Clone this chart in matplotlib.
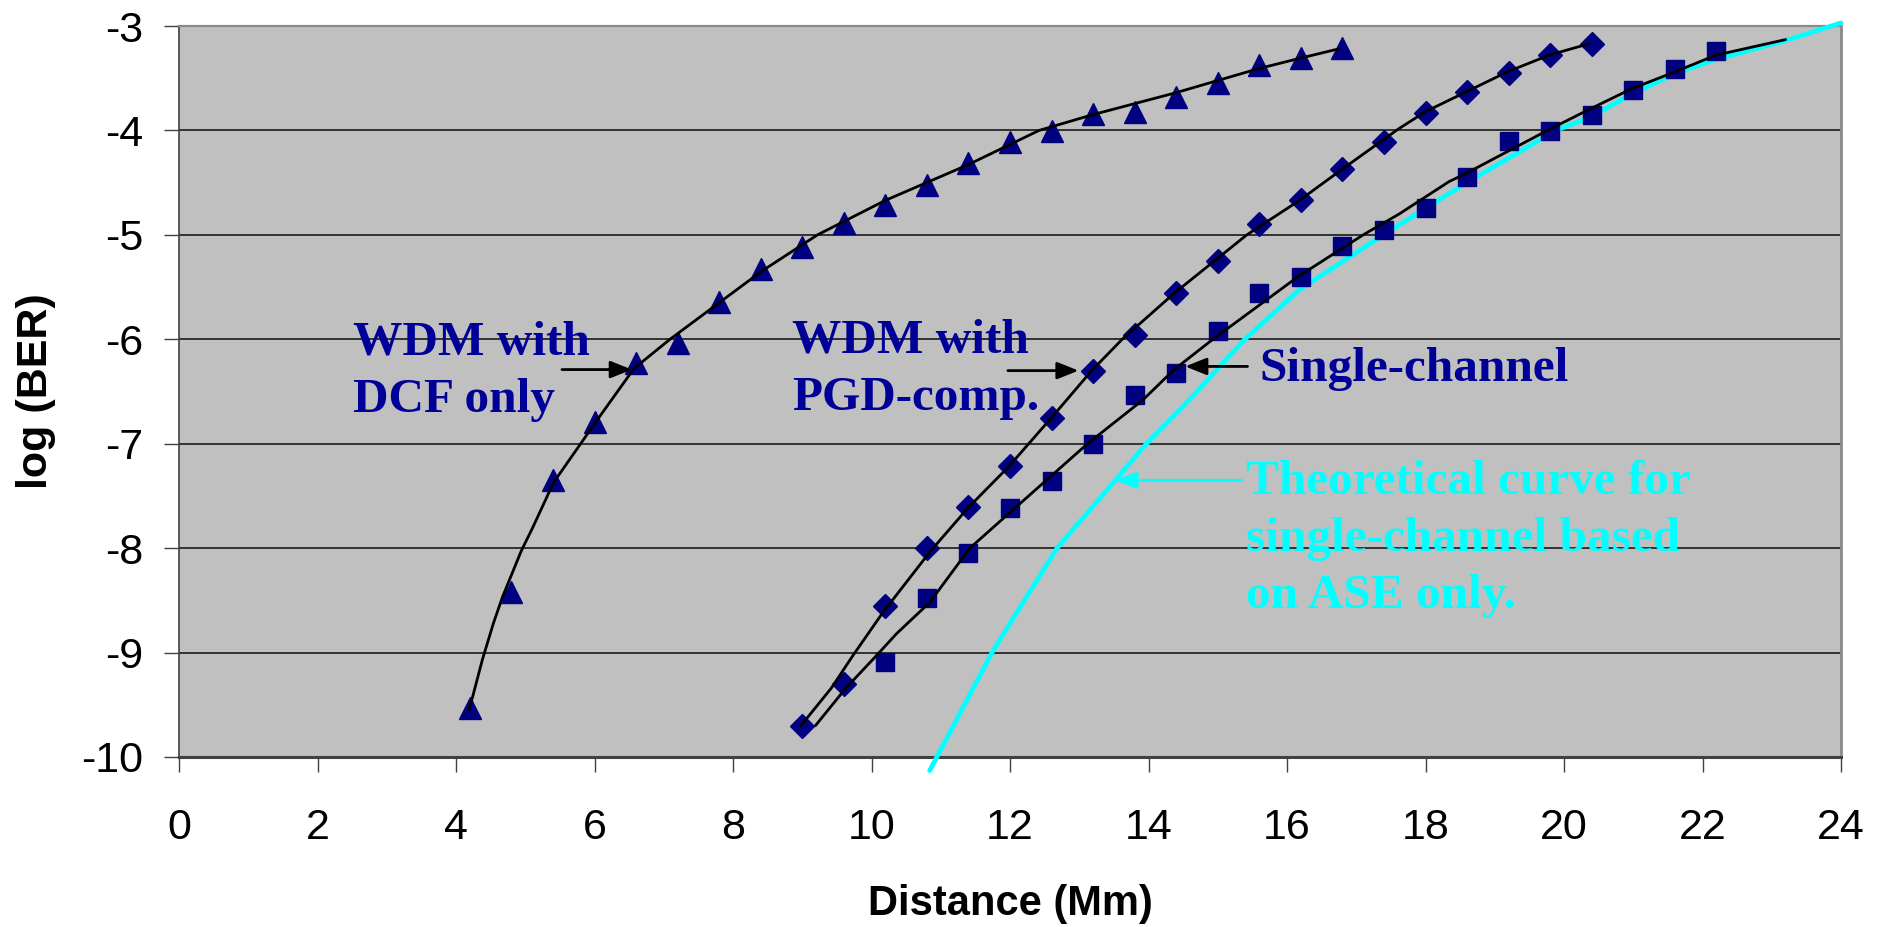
import matplotlib
matplotlib.use("Agg")
import matplotlib.pyplot as plt

# ---------------- data ----------------
dcf_x = [4.2, 4.8, 5.4, 6.0, 6.6, 7.2, 7.8, 8.4, 9.0, 9.6, 10.2, 10.8,
         11.4, 12.0, 12.6, 13.2, 13.8, 14.4, 15.0, 15.6, 16.2, 16.8]
dcf_y = [-9.53, -8.42, -7.35, -6.79, -6.23, -6.04, -5.64, -5.33, -5.12, -4.89,
         -4.71, -4.52, -4.31, -4.11, -4.01, -3.84, -3.82, -3.68, -3.55, -3.37,
         -3.31, -3.21]

pgd_x = [9.0, 9.6, 10.2, 10.8, 11.4, 12.0, 12.6, 13.2, 13.8, 14.4, 15.0,
         15.6, 16.2, 16.8, 17.4, 18.0, 18.6, 19.2, 19.8, 20.4]
pgd_y = [-9.70, -9.30, -8.55, -8.00, -7.61, -7.21, -6.75, -6.30, -5.96, -5.56,
         -5.25, -4.90, -4.67, -4.37, -4.11, -3.83, -3.63, -3.45, -3.28, -3.17]

single_x = [10.2, 10.8, 11.4, 12.0, 12.6, 13.2, 13.8, 14.4, 15.0, 15.6, 16.2,
            16.8, 17.4, 18.0, 18.6, 19.2, 19.8, 20.4, 21.0, 21.6, 22.2]
single_y = [-9.09, -8.48, -8.05, -7.62, -7.36, -7.00, -6.53, -6.32, -5.92, -5.56,
            -5.40, -5.11, -4.95, -4.74, -4.45, -4.10, -4.01, -3.85, -3.61, -3.41,
            -3.24]

# simulated (black) curves
dcf_curve_x = [4.19, 4.38, 4.54, 4.67, 4.94, 5.11, 5.41, 5.80, 6.02, 6.57, 7.09,
               7.76, 8.41, 9.22, 10.2, 11.39, 12.42, 13.19, 14.39, 15.58, 16.18, 16.74]
dcf_curve_y = [-9.55, -9.07, -8.72, -8.47, -8.03, -7.80, -7.37, -7.00, -6.79, -6.28,
               -6.00, -5.67, -5.35, -5.00, -4.67, -4.33, -4.00, -3.85, -3.64, -3.41,
               -3.31, -3.22]

pgd_curve_x = [8.98, 9.42, 9.73, 10.16, 10.85, 11.40, 11.98, 12.60, 13.18, 13.62,
               14.37, 15.42, 16.18, 16.80, 17.60, 18.00, 18.59, 19.18, 19.78, 20.36]
pgd_curve_y = [-9.70, -9.34, -9.03, -8.62, -8.03, -7.61, -7.22, -6.75, -6.30, -6.00,
               -5.56, -5.00, -4.67, -4.37, -3.99, -3.82, -3.63, -3.44, -3.28, -3.17]

single_curve_x = [9.19, 9.63, 10.07, 10.36, 10.84, 11.42, 11.98, 13.12, 13.92, 14.37,
                  14.93, 16.16, 17.10, 17.62, 18.34, 18.59, 19.76, 20.36, 20.98, 21.56,
                  22.19, 23.20]
single_curve_y = [-9.70, -9.34, -9.03, -8.82, -8.52, -8.00, -7.67, -7.00, -6.58, -6.29,
                  -6.00, -5.40, -5.00, -4.80, -4.49, -4.41, -4.00, -3.80, -3.60, -3.45,
                  -3.28, -3.13]

# theoretical (cyan) curve
theory_x = [10.84, 11.74, 11.85, 12.68, 13.52, 13.97, 14.59, 15.39, 16.17, 17.39,
            18.57, 19.88, 20.39, 20.98, 21.62, 22.19, 23.20, 24.00]
theory_y = [-10.13, -9.00, -8.88, -8.00, -7.35, -7.00, -6.58, -6.00, -5.53, -5.00,
            -4.51, -4.00, -3.87, -3.65, -3.45, -3.32, -3.14, -2.97]

x_ticks = [0, 2, 4, 6, 8, 10, 12, 14, 16, 18, 20, 22, 24]
y_ticks = [-10, -9, -8, -7, -6, -5, -4, -3]

dcf_label = ["WDM with", "DCF only"]
pgd_label = ["WDM with", "PGD-comp."]
single_label = ["Single-channel"]
theory_label = ["Theoretical curve for", "single-channel based", "on ASE only."]

# ---------------- figure ----------------
W, H = 1885, 927
fig = plt.figure(figsize=(W / 100, H / 100), dpi=100)
ax = fig.add_axes([179 / W, 1 - 757 / H, 1662 / W, 731 / H])
ax.set_facecolor("#C0C0C0")
ax.set_xlim(0, 24)
ax.set_ylim(-10, -3)
ax.set_xticks(x_ticks)
ax.set_yticks(y_ticks)
ax.set_xticklabels([str(v) for v in x_ticks])
ax.set_yticklabels([str(v) for v in y_ticks])
ax.yaxis.grid(True, color="#1a1a1a", lw=1.2)
ax.set_axisbelow(True)

for side, col, lw in [("top", "#8a8a8a", 1.6), ("right", "#8a8a8a", 2.0),
                      ("left", "#404040", 1.2), ("bottom", "#404040", 2.2)]:
    ax.spines[side].set_color(col)
    ax.spines[side].set_linewidth(lw)

ax.tick_params(axis="both", direction="out", length=10.8, width=1.0, color="#404040")
ax.tick_params(axis="x", pad=26)
ax.tick_params(axis="y", pad=15)
for lab in ax.get_xticklabels() + ax.get_yticklabels():
    lab.set_fontfamily("Liberation Sans")
    lab.set_fontsize(31)

ax.set_xlabel("Distance (Mm)", fontfamily="Liberation Sans", fontsize=30,
              fontweight="bold", va="center")
ax.xaxis.set_label_coords(0.5, (757 - 904) / 731)
ax.set_ylabel("log (BER)", fontfamily="Liberation Sans", fontsize=31,
              fontweight="bold", va="center")
ax.yaxis.set_label_coords((36 - 179) / 1662, 0.5)

navy = "#000080"
text_navy = "#000099"
cyan = "#00FFFF"

# theoretical curve (under markers)
ax.plot(theory_x, theory_y, color=cyan, lw=3.4, clip_on=False, zorder=3,
        solid_capstyle="round")

# markers
ax.plot(dcf_x, dcf_y, ls="none", marker="^", ms=16.5, color=navy, mec=navy, zorder=4)
ax.plot(pgd_x, pgd_y, ls="none", marker="D", ms=12.5, color=navy, mec=navy, zorder=4)
ax.plot(single_x, single_y, ls="none", marker="s", ms=12.3, color=navy, mec=navy, zorder=4)

# black curves
for cx, cy in [(dcf_curve_x, dcf_curve_y), (pgd_curve_x, pgd_curve_y),
               (single_curve_x, single_curve_y)]:
    ax.plot(cx, cy, color="black", lw=2.0, zorder=5, solid_capstyle="round",
            solid_joinstyle="round")

# annotations
serif = {"family": "Liberation Serif", "weight": "bold", "size": 35.5}
line_step = 57 / 104.43


def put_lines(lines, x, y0, color):
    for i, s in enumerate(lines):
        ax.text(x, y0 - i * line_step, s, color=color, fontdict=serif,
                ha="left", va="baseline", zorder=6)


put_lines(dcf_label, 2.51, -6.15, text_navy)
put_lines(pgd_label, 8.85, -6.13, text_navy)
put_lines(single_label, 15.60, -6.40, text_navy)
put_lines(theory_label, 15.41, -7.48, cyan)

arrow_kw = dict(arrowstyle="-|>,head_length=0.5,head_width=0.2", mutation_scale=26,
                shrinkA=0, shrinkB=0)
for (tail, tip, col) in [((5.53, -6.29), (6.54, -6.29), "black"),
                         ((11.97, -6.30), (12.99, -6.30), "black"),
                         ((15.43, -6.26), (14.53, -6.26), "black"),
                         ((15.34, -7.35), (13.52, -7.35), cyan)]:
    ax.annotate("", xy=tip, xytext=tail,
                arrowprops=dict(color=col, lw=2.0, **arrow_kw), zorder=6)

fig.savefig("out.png", dpi=100, facecolor="white")
